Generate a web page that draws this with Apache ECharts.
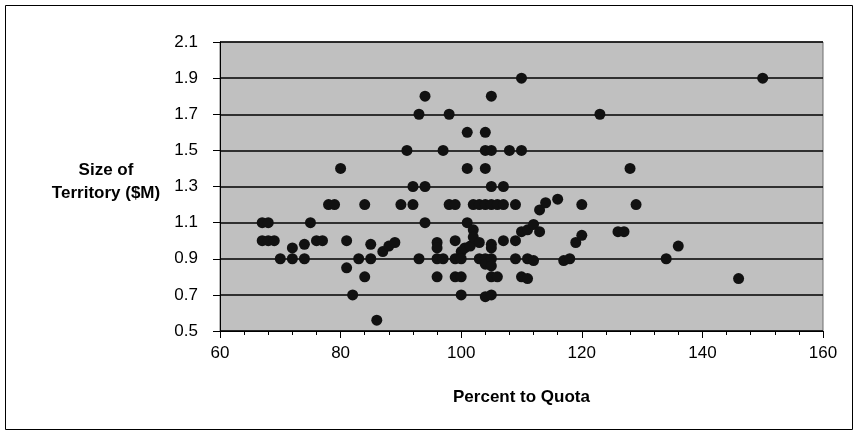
<!DOCTYPE html>
<html>
<head>
<meta charset="utf-8">
<script src="https://cdn.jsdelivr.net/npm/echarts@6/dist/echarts.min.js"></script>
<style>html,body{margin:0;padding:0;background:#fff}#c{width:858px;height:435px}</style>
</head>
<body>
<div id="c"></div>
<script>
// Percent to Quota (x) and Size of Territory $M (y)
const percentToQuota = [67,68,75,67,68,69,70,72,74,72,74,76,77,78,79,80,81,81,82,83,84,84,85,85,86,87,88,89,90,91,92,92,93,93,94,94,94,96,96,96,96,97,97,98,98,99,99,99,99,100,100,100,100,100.6,101.5,101,101,101,102,102,102,103,103,103,104,104,104,104,104,104,104,105,105,105,105,105,105,105,105,105,105,106,106,107,107,107,108,109,109,109,110,110,110,110,111,111,111,112,112,113,113,114,116,117,118,119,120,120,123,126,127,128,129,134,136,146,150];
const territorySize = [1.1,1.1,1.1,1.0,1.0,1.0,0.9,0.9,0.9,0.96,0.98,1.0,1.0,1.2,1.2,1.4,1.0,0.85,0.7,0.9,1.2,0.8,0.98,0.9,0.56,0.94,0.97,0.99,1.2,1.5,1.3,1.2,1.7,0.9,1.8,1.3,1.1,0.99,0.96,0.9,0.8,1.5,0.9,1.7,1.2,1.2,1.0,0.9,0.8,0.94,0.9,0.8,0.7,0.96,0.97,1.6,1.4,1.1,1.2,1.06,1.02,1.2,0.99,0.9,1.6,1.5,1.4,1.2,0.9,0.87,0.69,1.8,1.5,1.3,1.2,0.98,0.96,0.9,0.86,0.8,0.7,1.2,0.8,1.3,1.2,1.0,1.5,1.2,1.0,0.9,1.9,1.5,1.05,0.8,1.06,0.9,0.79,1.09,0.89,1.17,1.05,1.21,1.23,0.89,0.9,0.99,1.03,1.2,1.7,1.05,1.05,1.4,1.2,0.9,0.97,0.79,1.9];
const xTicks = [60, 80, 100, 120, 140, 160];
const yTicks = [0.5, 0.7, 0.9, 1.1, 1.3, 1.5, 1.7, 1.9, 2.1];
const yTitleLines = ['Size of', 'Territory ($M)'];

const points = percentToQuota.map((x, i) => [x, territorySize[i]]);
const font = '"Liberation Sans", Arial, sans-serif';
const chart = echarts.init(document.getElementById('c'), null, {renderer: 'canvas'});
chart.setOption({
  animation: false,
  grid: {left: 220, top: 42, right: 35, bottom: 104, show: true, backgroundColor: '#c0c0c0', borderColor: '#6e6e6e', borderWidth: 1},
  xAxis: {
    type: 'value', min: xTicks[0], max: xTicks[xTicks.length - 1], interval: 20,
    name: 'Percent to Quota', nameLocation: 'middle', nameGap: 58,
    nameTextStyle: {fontFamily: font, fontSize: 17, fontWeight: 'bold', color: '#000'},
    axisLine: {show: true, onZero: false, lineStyle: {color: '#000', width: 1}},
    axisTick: {show: true, length: 7, lineStyle: {color: '#000'}},
    minorTick: {show: true, splitNumber: 5, length: 4, lineStyle: {color: '#000'}},
    axisLabel: {fontFamily: font, fontSize: 17, color: '#000', margin: 14},
    splitLine: {show: false}
  },
  yAxis: {
    type: 'value', min: yTicks[0], max: yTicks[yTicks.length - 1], interval: 0.2,
    axisLine: {show: true, onZero: false, lineStyle: {color: '#000', width: 1}},
    axisTick: {show: true, length: 7, lineStyle: {color: '#000'}},
    axisLabel: {fontFamily: font, fontSize: 17, color: '#000', margin: 22, formatter: v => v.toFixed(1)},
    splitLine: {show: true, lineStyle: {color: '#000', width: 1.6}}
  },
  graphic: [
    {type: 'rect', shape: {x: 5.5, y: 5.5, width: 847, height: 424}, style: {fill: null, stroke: '#000', lineWidth: 1}, silent: true, z: -1},
    {type: 'text', x: 106, y: 170, style: {text: yTitleLines[0], font: 'bold 17px ' + font, fill: '#000', align: 'center', verticalAlign: 'middle'}},
    {type: 'text', x: 106, y: 193, style: {text: yTitleLines[1], font: 'bold 17px ' + font, fill: '#000', align: 'center', verticalAlign: 'middle'}}
  ],
  series: [{
    type: 'scatter', data: points, symbol: 'circle', symbolSize: 11,
    itemStyle: {color: '#111', opacity: 1}
  }]
});
</script>
</body>
</html>
